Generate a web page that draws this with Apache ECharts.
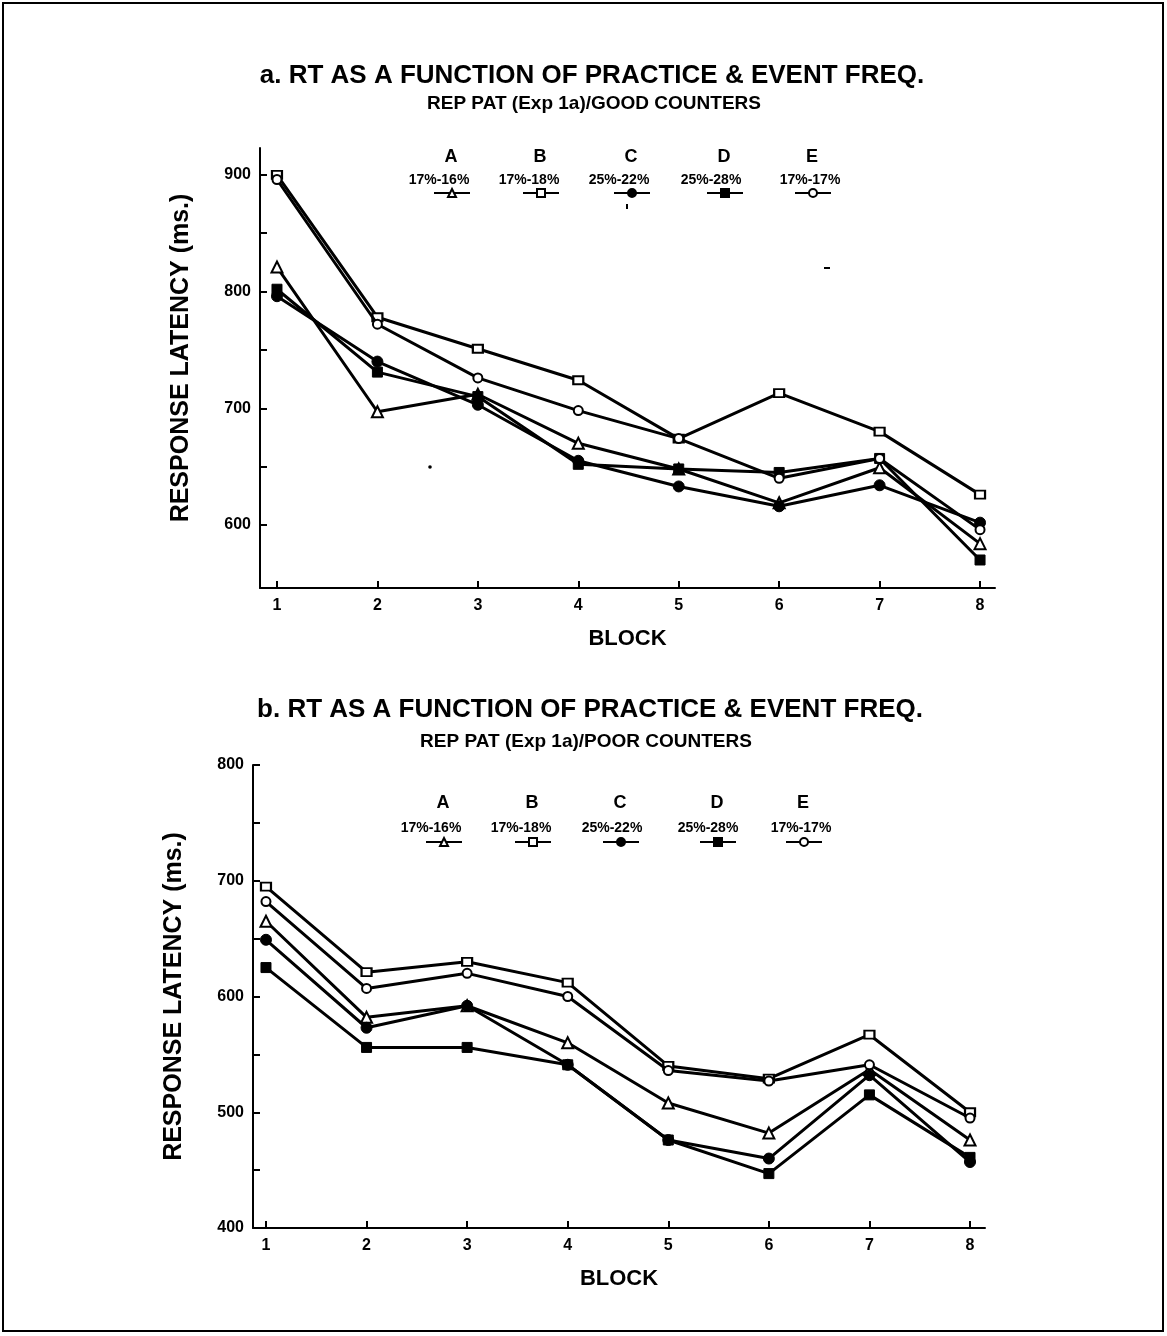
<!DOCTYPE html>
<html><head><meta charset="utf-8">
<script src="https://cdn.jsdelivr.net/npm/echarts@6/dist/echarts.min.js"></script>
<style>html,body{margin:0;padding:0;background:#fff}#c{width:1167px;height:1336px}</style>
</head><body><div id="c"></div>
<script>
// ---- data ----
const blocks = [1, 2, 3, 4, 5, 6, 7, 8];
const groupLetters = ['A', 'B', 'C', 'D', 'E'];
const groupPct = ['17%-16%', '17%-18%', '25%-22%', '25%-28%', '17%-17%'];
// a. GOOD COUNTERS
const goodA = [821, 697, 712, 670, 648, 619, 649, 584];
const goodB = [900, 778, 751, 724, 674, 713, 680, 626];
const goodC = [796, 740, 703, 655, 633, 616, 634, 602];
const goodD = [802, 731, 710, 652, 648, 645, 657, 570];
const goodE = [896, 772, 726, 698, 674, 640, 657, 596];
// b. POOR COUNTERS
const poorA = [665, 582, 592, 560, 508, 482, 537, 476];
const poorB = [695, 621, 630, 612, 540, 529, 567, 500];
const poorC = [649, 573, 592, 541, 476, 460, 532, 457];
const poorD = [625, 556, 556, 541, 476, 447, 515, 461];
const poorE = [682, 607, 620, 600, 536, 527, 541, 495];
// ticks
const goodYTicks = [600, 650, 700, 750, 800, 850, 900];
const goodYLabels = [600, 700, 800, 900];
const poorYTicks = [400, 450, 500, 550, 600, 650, 700, 750, 800];
const poorYLabels = [400, 500, 600, 700, 800];
const titleA = 'a. RT AS A FUNCTION OF PRACTICE & EVENT FREQ.';
const subA = 'REP PAT (Exp 1a)/GOOD COUNTERS';
const titleB = 'b. RT AS A FUNCTION OF PRACTICE & EVENT FREQ.';
const subB = 'REP PAT (Exp 1a)/POOR COUNTERS';
const axisX = 'BLOCK';
const axisY = 'RESPONSE LATENCY (ms.)';

// ---- styles ----
const FONT = '"Liberation Sans", Arial, sans-serif';
const symbols = [
  {symbol: 'triangle', symbolSize: 11, itemStyle: {color: '#fff', borderColor: '#000', borderWidth: 2}},
  {symbol: 'rect', symbolSize: [10, 8], itemStyle: {color: '#fff', borderColor: '#000', borderWidth: 2}},
  {symbol: 'circle', symbolSize: 11, itemStyle: {color: '#000', borderColor: '#000', borderWidth: 1}},
  {symbol: 'rect', symbolSize: 10, itemStyle: {color: '#000', borderColor: '#000', borderWidth: 1}},
  {symbol: 'circle', symbolSize: 9, itemStyle: {color: '#fff', borderColor: '#000', borderWidth: 2}}
];
const goodSets = [goodA, goodB, goodC, goodD, goodE];
const poorSets = [poorA, poorB, poorC, poorD, poorE];

const chart = echarts.init(document.getElementById('c'), null, {renderer: 'canvas'});

function mkSeries(sets, idx, suffix) {
  return sets.map((vals, i) => Object.assign({
    name: groupLetters[i] + suffix,
    type: 'line',
    xAxisIndex: idx, yAxisIndex: idx,
    data: blocks.map((b, j) => [b, vals[j]]),
    lineStyle: {color: '#000', width: 3},
    color: '#000',
    z: 2 + i,
    animation: false
  }, JSON.parse(JSON.stringify(symbols[i]))));
}

function mkX(idx, min, max) {
  return {
    type: 'value', gridIndex: idx, min: min, max: max,
    axisLine: {show: true, onZero: false, lineStyle: {color: '#000', width: 2}},
    axisTick: {show: true, inside: true, length: 7, lineStyle: {color: '#000', width: 2}, customValues: blocks},
    axisLabel: {color: '#000', fontFamily: FONT, fontWeight: 'bold', fontSize: 16, margin: 10, customValues: blocks},
    splitLine: {show: false},
    name: axisX, nameLocation: 'middle', nameGap: 40,
    nameTextStyle: {color: '#000', fontFamily: FONT, fontWeight: 'bold', fontSize: 22}
  };
}
function mkY(idx, min, max, ticks, labels, gap, pad) {
  return {
    type: 'value', gridIndex: idx, min: min, max: max,
    axisLine: {show: true, onZero: false, lineStyle: {color: '#000', width: 2}},
    axisTick: {show: true, inside: true, length: 7, lineStyle: {color: '#000', width: 2}, customValues: ticks},
    axisLabel: {color: '#000', fontFamily: FONT, fontWeight: 'bold', fontSize: 16, margin: 9, customValues: labels},
    splitLine: {show: false},
    name: axisY, nameLocation: 'middle', nameGap: gap, nameRotate: 90,
    nameTextStyle: {color: '#000', fontFamily: FONT, fontWeight: 'bold', fontSize: 25, padding: pad}
  };
}

const topLetterX = [451, 540, 631, 724, 812];
const topPctX = [439, 529, 619, 711, 810];
const botLetterX = [443, 532, 620, 717, 803];
const botPctX = [431, 521, 612, 708, 801];
const legends = [];
const graphics = [{
  type: 'rect', shape: {x: 3, y: 3, width: 1160, height: 1328},
  style: {fill: 'none', stroke: '#000', lineWidth: 2}, silent: true
}, {
  // scanning specks visible in the original
  type: 'circle', shape: {cx: 430, cy: 467, r: 1.8}, style: {fill: '#000'}, silent: true
}, {
  type: 'rect', shape: {x: 824, y: 267, width: 6, height: 2}, style: {fill: '#000'}, silent: true
}, {
  type: 'rect', shape: {x: 626, y: 204, width: 2, height: 5}, style: {fill: '#000'}, silent: true
}];
function txt(x, y, s, font) {
  graphics.push({type: 'text', x: x, y: y, silent: true,
    style: {text: s, textAlign: 'center', textVerticalAlign: 'middle', fill: '#000', font: font}});
}
function addLegend(letterX, pctX, suffix, yLetter, yPct, yIcon) {
  groupLetters.forEach((L, i) => {
    legends.push({
      data: [L + suffix], left: letterX[i] - 18, top: yIcon - 5,
      itemWidth: 36, itemHeight: 10, itemGap: 0, padding: 0,
      formatter: () => '', selectedMode: false,
      textStyle: {fontSize: 1}
    });
    txt(letterX[i], yLetter, L, 'bold 18px ' + FONT);
    txt(pctX[i], yPct, groupPct[i], 'bold 14px ' + FONT);
  });
}
addLegend(topLetterX, topPctX, ' (a)', 157, 180, 193);
addLegend(botLetterX, botPctX, ' (b)', 803, 828, 842);
txt(592, 76, titleA, 'bold 26px ' + FONT);
txt(594, 104, subA, 'bold 19px ' + FONT);
txt(590, 710, titleB, 'bold 26px ' + FONT);
txt(586, 742, subB, 'bold 19px ' + FONT);

const option = {
  animation: false,
  backgroundColor: '#fff',
  legend: legends,
  grid: [
    {left: 260, top: 148, width: 735, height: 440},
    {left: 253, top: 765, width: 732, height: 463}
  ],
  xAxis: [mkX(0, 0.831, 8.149), mkX(1, 0.871, 8.149)],
  yAxis: [mkY(0, 546, 923, goodYTicks, goodYLabels, 66, [0, 0, 0, 20]),
          mkY(1, 400, 800, poorYTicks, poorYLabels, 66, 0)],
  series: mkSeries(goodSets, 0, ' (a)').concat(mkSeries(poorSets, 1, ' (b)')),
  graphic: graphics
};
chart.setOption(option);
</script>
</body></html>
